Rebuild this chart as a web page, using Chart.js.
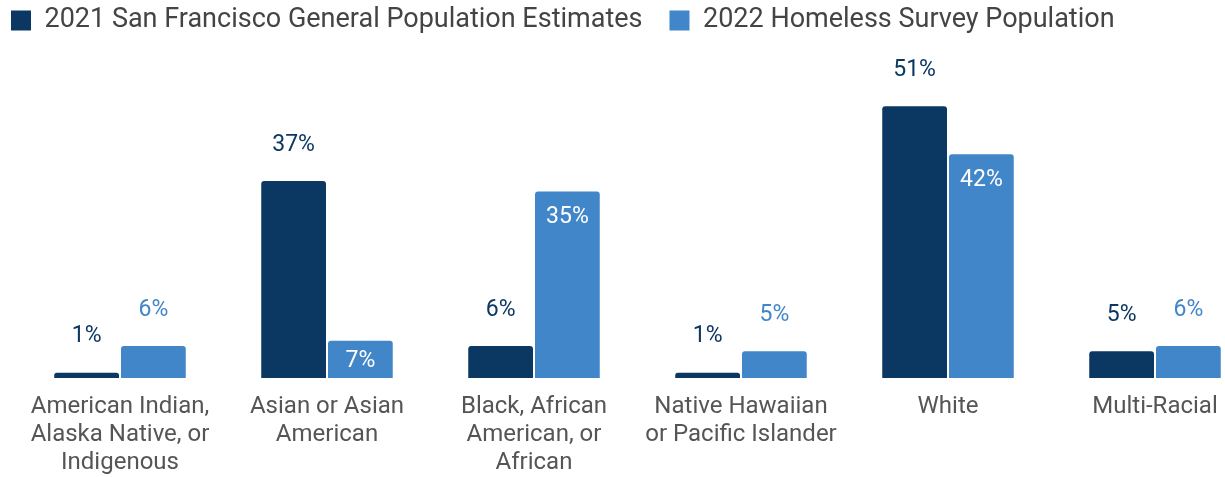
<!DOCTYPE html>
<html>
<head>
<meta charset="utf-8">
<script src="https://cdn.jsdelivr.net/npm/chart.js@4"></script>
<style>
    html, body { margin: 0; padding: 0; background: #fff; overflow: hidden; }
    #wrap { width: 1262px; height: 477px; position: relative; }
</style>
</head>
<body>
<div id="wrap"><canvas id="myChart1"></canvas></div>
<script>
const categories = [
    ["American Indian,", "Alaska Native, or", "Indigenous"],
    ["Asian or Asian", "American"],
    ["Black, African", "American, or", "African"],
    ["Native Hawaiian", "or Pacific Islander"],
    "White",
    "Multi-Racial"
];
const seriesNames = ["2021 San Francisco General Population Estimates", "2022 Homeless Survey Population"];
const generalPop = [1, 37, 6, 1, 51, 5];
const homelessPop = [6, 7, 35, 5, 42, 6];

const darkBlue = "#0b3763";
const lightBlue = "#4186c8";

// draws the % labels on top of / inside the bars
const valueLabels = {
    id: "valueLabels",
    afterDatasetsDraw(chart) {
        const ctx = chart.ctx;
        ctx.save();
        ctx.font = "23px Roboto";
        ctx.textAlign = "center";
        ctx.textBaseline = "middle";
        chart.data.datasets.forEach((ds, i) => {
            const meta = chart.getDatasetMeta(i);
            meta.data.forEach((bar, j) => {
                const value = ds.data[j];
                const text = value + "%";
                if (i === 0) {
                    ctx.fillStyle = darkBlue;
                    ctx.fillText(text, bar.x, bar.y - 36);
                } else if (value > 6) {
                    ctx.fillStyle = "#ffffff";
                    ctx.fillText(text, bar.x, Math.min(bar.y + 26, (bar.y + bar.base) / 2 + 2));
                } else {
                    ctx.fillStyle = lightBlue;
                    ctx.fillText(text, bar.x, bar.y - 36);
                }
            });
        });
        ctx.restore();
    }
};

const chartData = {
    type: "bar",
    data: {
        labels: categories,
        datasets: [{
            label: seriesNames[0],
            data: generalPop,
            backgroundColor: darkBlue,
            borderRadius: {topLeft: 3, topRight: 3},
            borderSkipped: "bottom",
            categoryPercentage: 0.645,
            barPercentage: 0.97
        },
        {
            label: seriesNames[1],
            data: homelessPop,
            backgroundColor: lightBlue,
            borderRadius: {topLeft: 3, topRight: 3},
            borderSkipped: "bottom",
            categoryPercentage: 0.645,
            barPercentage: 0.97
        }]
    },
    options: {
        responsive: true,
        maintainAspectRatio: false,
        animation: false,
        layout: {
            // legend is pulled up/left so its big item gap does not push it in
            padding: {left: -16, right: 3.5, top: -20, bottom: -15}
        },
        plugins: {
            legend: {
                display: true,
                position: "top",
                align: "start",
                labels: {
                    boxWidth: 20,
                    boxHeight: 20,
                    padding: 27,
                    color: "#444444",
                    font: {family: "Roboto", size: 27}
                }
            },
            tooltip: {enabled: false}
        },
        scales: {
            x: {
                grid: {display: false, drawTicks: false},
                border: {display: false},
                ticks: {
                    color: "#555555",
                    padding: 15,
                    maxRotation: 0,
                    autoSkip: false,
                    font: {family: "Roboto", size: 24, lineHeight: 1.1667}
                }
            },
            y: {
                display: true,
                min: 0,
                max: 62.7,
                grid: {display: false, drawTicks: false},
                border: {display: false},
                ticks: {display: false},
                afterFit(scale) {
                    scale.width = 32.5;
                }
            }
        }
    },
    plugins: [valueLabels]
};

const ctx = document.getElementById("myChart1");
new Chart(ctx, chartData);
</script>
</body>
</html>
